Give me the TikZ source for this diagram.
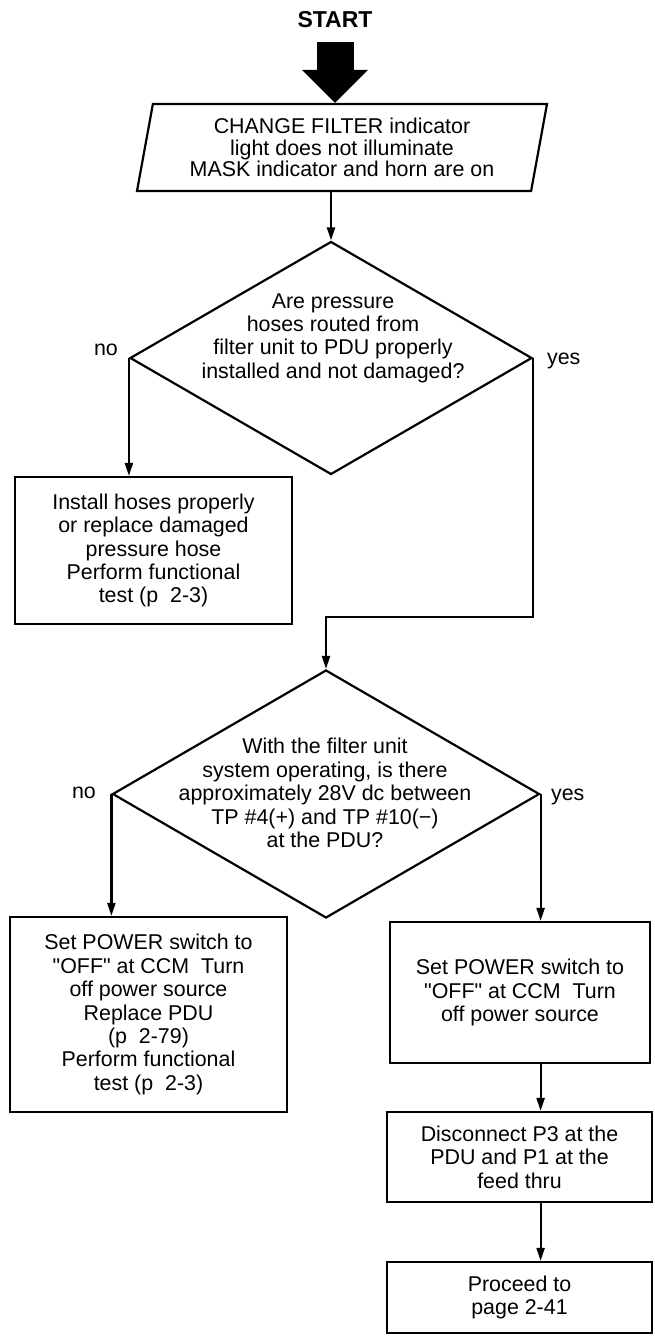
\documentclass[tikz,border=0pt]{standalone}
\usepackage{fontspec}
\setmainfont{Liberation Sans}
\newfontfamily\chartfont{Liberation Sans}
\usetikzlibrary{shapes.geometric,arrows.meta}

\begin{document}
\begin{tikzpicture}[x=0.5pt,y=-0.5pt,line width=1.1pt,
  every node/.style={font=\chartfont\fontsize{10.7}{11.7}\selectfont},
  stepbox/.style={draw,align=center,inner sep=0pt},
  question/.style={draw,diamond,inner sep=0pt},
  qtext/.style={align=center,inner sep=0pt},
  answer/.style={inner sep=0pt},
  arr/.style={-{Triangle[length=6.5pt,width=4pt]}}]
\path[use as bounding box] (0,0) rectangle (654,1336);
% start and problem
\node[inner sep=0pt,font=\chartfont\fontsize{11.5}{13}\selectfont\bfseries] (start) at (335,20) {START};
\node[draw,trapezium,trapezium left angle=75,trapezium right angle=105,trapezium stretches body,
  minimum width=205pt,minimum height=43.5pt,inner sep=0pt,align=center,
  font=\chartfont\fontsize{10.7}{10.9}\selectfont] (problem) at (342,147.5)
  {CHANGE FILTER indicator\\light does not illuminate\\MASK indicator and horn are on};
\draw[line width=18.5pt,-{Triangle[length=16.5pt,width=32pt]}] ([yshift=-6.5pt]start.south) -- (start.south |- problem.north);
% first question
\node[question,minimum width=201pt,minimum height=116.5pt] (q1) at (331,358) {};
\node[qtext] (q1text) at (333,338) {Are pressure\\hoses routed from\\filter unit to PDU properly\\installed and not damaged?};
\node[answer,anchor=east] (q1no) at (119,350) {no};
\node[answer,anchor=west] (q1yes) at (546,361) {yes};
\node[stepbox,minimum width=138.5pt,minimum height=73.5pt] (fix1) at (153.5,550.5)
  {Install hoses properly\\or replace damaged\\pressure hose\\Perform functional\\test (p~ 2-3)};
% second question
\node[question,minimum width=213.5pt,minimum height=124pt] (q2) at (326,794) {};
\node[qtext] (q2text) at (325,793) {With the filter unit\\system operating, is there\\approximately 28V dc between\\TP \#4(+) and TP \#10(−)\\at the PDU?};
\node[answer,anchor=east] (q2no) at (97,793) {no};
\node[answer,anchor=west] (q2yes) at (550,797) {yes};
\node[stepbox,minimum width=138.5pt,minimum height=97.5pt] (fix2) at (148.5,1014.5)
  {Set POWER switch to\\"OFF" at CCM~ Turn\\off power source\\Replace PDU\\(p~ 2-79)\\Perform functional\\test (p~ 2-3)};
\node[stepbox,minimum width=130pt,minimum height=70.5pt] (power) at (520,992.5)
  {Set POWER switch to\\"OFF" at CCM~ Turn\\off power source};
\node[stepbox,minimum width=132.5pt,minimum height=45pt] (disc) at (519.5,1157)
  {Disconnect P3 at the\\PDU and P1 at the\\feed thru};
\node[stepbox,minimum width=132.5pt,minimum height=35.5pt] (proceed) at (519.5,1297.5)
  {Proceed to\\page 2-41};
% connectors
\coordinate (join1) at (q2.north |- 0,617);
\draw[arr] (q1.north |- problem.south) -- (q1.north);
\draw[arr] (q1.west) -- (q1.west |- fix1.north);
\draw[arr] (q1.east) |- (join1) -- (q2.north);
\draw[arr] (q2.west) -- (q2.west |- fix2.north);
\draw[arr] (q2.east) -- (q2.east |- power.north);
\draw[arr] (q2.east |- power.south) -- (q2.east |- disc.north);
\draw[arr] (q2.east |- disc.south) -- (q2.east |- proceed.north);
\end{tikzpicture}
\end{document}
